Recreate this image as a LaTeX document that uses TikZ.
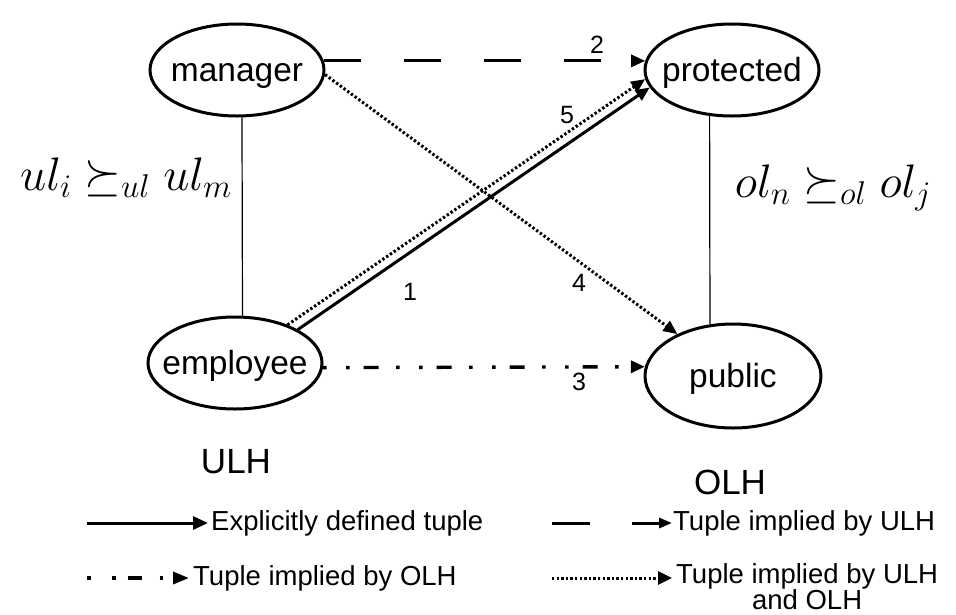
\documentclass[tikz,border=0pt]{standalone}
\usepackage{fix-cm}
\usepackage[no-math]{fontspec}
\setmainfont{Liberation Sans}
\usetikzlibrary{shapes.geometric,arrows.meta}

% level names are set in a zero-width box so the ellipse keeps its fixed size
\newcommand{\lvlname}[1]{\makebox[0pt]{#1}}

\begin{document}
\begin{tikzpicture}[x=1pt,y=-1pt,
  level/.style={ellipse, draw, line width=3pt, inner sep=0pt,
    minimum width=174pt, minimum height=92pt,
    text height=26pt, text depth=4pt,
    font=\fontsize{33.5}{40}\selectfont},
  order/.style={line width=1.2pt},
  head/.style={-{Triangle[length=14pt,width=12pt]}},
  explicit/.style={line width=3pt},
  byulh/.style={line width=3pt, dash pattern=on 37pt off 43pt},
  byolh/.style={line width=3.4pt, dash pattern=on 3.5pt off 19.5pt on 3.5pt off 14pt on 15pt off 17.5pt},
  byboth/.style={line width=3pt, dash pattern=on 2.4pt off 2.2pt},
  num/.style={inner sep=0pt, font=\fontsize{25}{30}\selectfont},
  hier/.style={inner sep=0pt, font=\fontsize{35}{40}\selectfont},
  rel/.style={inner sep=0pt, font=\fontsize{47}{54}\selectfont},
  legtext/.style={inner sep=0pt, anchor=west, font=\fontsize{27.5}{24}\selectfont}]
\useasboundingbox[fill=white] (0,0) rectangle (956,614);

% user levels and object levels
\node[level] (manager) at (237,70) {\lvlname{manager}};
\node[level] (employee) at (235,363) {\lvlname{employee}};
\node[level] (protected) at (732,70) {\lvlname{protected}};
\node[level, minimum width=176pt, minimum height=104pt] (public) at (733,376) {\lvlname{public}};

% dominance within each hierarchy
\draw[order] (manager.-84) -- (employee.81);
\draw[order] (protected.-116) -- (public.114);

\node[rel] (ulrel) at (126,178) {$ul_i \succeq_{ul} ul_m$};
\node[rel] (olrel) at (833,188) {$ol_n \succeq_{ol} ol_j$};

\node[hier] (ulh) at (236,462) {ULH};
\node[hier] (olh) at (730,482) {OLH};

% tuples
\draw[byulh, head] (manager.6) -- (protected.174);
\draw[byboth, head] (manager.-3) -- (public.143);
\draw[explicit, head] (employee.28) -- (protected.-168);
\draw[byboth, head] (employee.36) -- (protected.-174);
\draw[byolh, head] (employee.-3) -- (public.174);

\node[num] (n1) at (410,292) {1};
\node[num] (n2) at (597,45) {2};
\node[num] (n3) at (579,382) {3};
\node[num] (n4) at (579,283) {4};
\node[num] (n5) at (567,115) {5};

% legend
\coordinate (a1) at (87,523);  \coordinate (b1) at (208,523);
\coordinate (a2) at (552,523); \coordinate (b2) at (672,523);
\coordinate (a3) at (87,578);  \coordinate (b3) at (189,578);
\coordinate (a4) at (552,578); \coordinate (b4) at (672,578);
\draw[explicit, -{Triangle[length=15pt,width=13pt]}] (a1) -- (b1);
\draw[byulh, dash pattern=on 38pt off 42pt, -{Triangle[length=13pt,width=10pt]}] (a2) -- (b2);
\draw[byolh, dash pattern=on 3.5pt off 21.5pt on 3.5pt off 12pt on 14pt off 18pt, -{Triangle[length=16pt,width=12pt]}] (a3) -- (b3);
\draw[byboth, -{Triangle[length=14pt,width=13pt]}] (a4) -- (b4);

\node[legtext] (l1) at (211,523) {Explicitly defined tuple};
\node[legtext] (l2) at (673,523) {Tuple implied by ULH};
\node[legtext] (l3) at (193,578) {Tuple implied by OLH};
\node[legtext, anchor=north west, align=center] (l4) at (676,563) {Tuple implied by ULH\\and OLH};
\end{tikzpicture}
\end{document}
